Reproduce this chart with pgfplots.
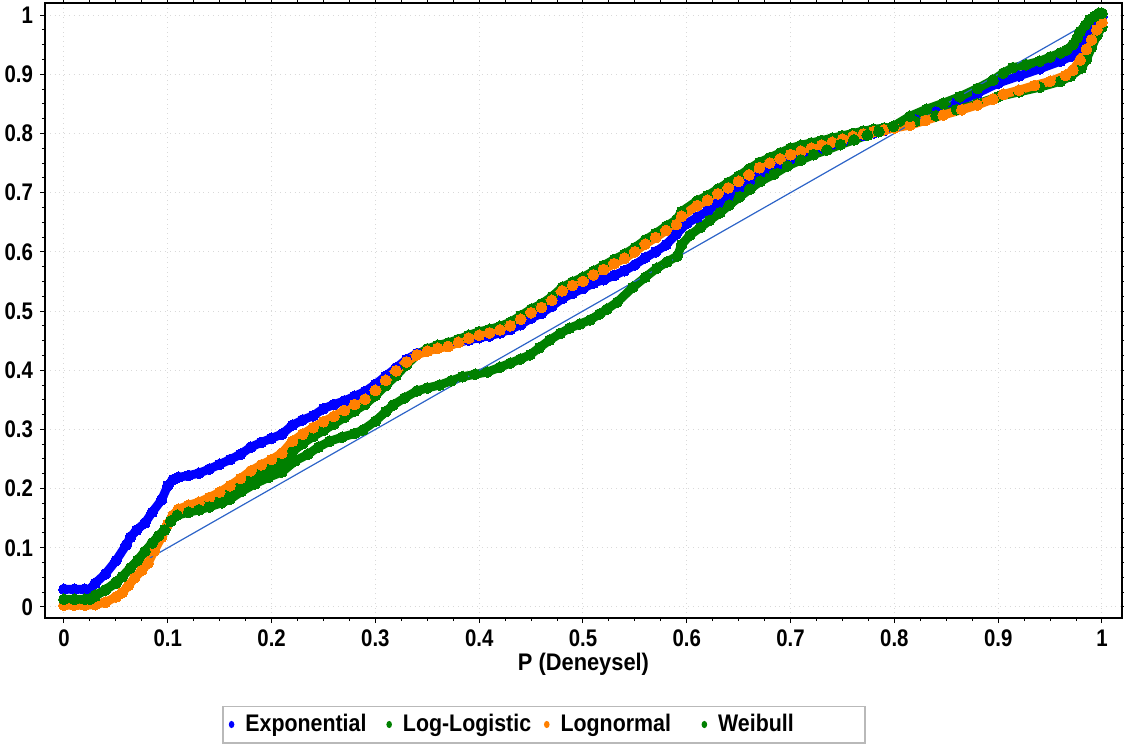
\documentclass[border=0pt]{standalone}
\usepackage{fontspec}
\setmainfont{Liberation Sans}
\usepackage{pgfplots}
\usepackage{pgfplotstable}
\pgfplotsset{compat=1.18}
\definecolor{cblue}{RGB}{0,0,255}
\definecolor{cgreen}{RGB}{0,128,0}
\definecolor{corange}{RGB}{255,128,0}
\definecolor{cline}{RGB}{45,100,200}

\pgfplotstableread{
x y
0.000 0.030
0.010 0.030
0.020 0.030
0.025 0.030
0.030 0.040
0.040 0.056
0.050 0.078
0.060 0.105
0.064 0.118
0.070 0.130
0.078 0.142
0.085 0.160
0.094 0.181
0.100 0.205
0.105 0.215
0.110 0.219
0.120 0.222
0.130 0.226
0.140 0.233
0.150 0.241
0.160 0.249
0.170 0.258
0.180 0.270
0.190 0.278
0.200 0.285
0.210 0.292
0.220 0.307
0.230 0.316
0.240 0.323
0.250 0.335
0.260 0.342
0.270 0.348
0.280 0.356
0.290 0.364
0.300 0.376
0.310 0.390
0.320 0.404
0.330 0.418
0.340 0.428
0.350 0.433
0.360 0.438
0.370 0.442
0.380 0.447
0.390 0.451
0.400 0.455
0.410 0.458
0.420 0.463
0.430 0.469
0.440 0.477
0.450 0.488
0.460 0.496
0.470 0.508
0.480 0.521
0.490 0.530
0.500 0.538
0.510 0.547
0.520 0.553
0.530 0.560
0.540 0.568
0.550 0.578
0.560 0.590
0.570 0.600
0.580 0.612
0.590 0.630
0.600 0.648
0.610 0.658
0.620 0.669
0.630 0.682
0.640 0.694
0.650 0.705
0.660 0.718
0.670 0.730
0.680 0.741
0.690 0.750
0.700 0.757
0.710 0.764
0.720 0.770
0.730 0.776
0.740 0.782
0.750 0.787
0.760 0.792
0.770 0.797
0.780 0.801
0.790 0.805
0.800 0.810
0.820 0.823
0.840 0.836
0.860 0.852
0.880 0.868
0.900 0.885
0.920 0.897
0.940 0.909
0.960 0.922
0.970 0.930
0.980 0.945
0.985 0.960
0.990 0.975
0.995 0.990
1.000 0.998
}\expo

\pgfplotstableread{
x y
0.000 0.012
0.020 0.012
0.030 0.020
0.040 0.029
0.050 0.042
0.056 0.051
0.064 0.066
0.071 0.079
0.078 0.094
0.085 0.108
0.091 0.120
0.097 0.131
0.103 0.147
0.109 0.157
0.120 0.163
0.130 0.168
0.140 0.175
0.150 0.183
0.160 0.193
0.170 0.205
0.180 0.216
0.190 0.227
0.200 0.236
0.210 0.246
0.220 0.262
0.230 0.276
0.240 0.288
0.250 0.298
0.260 0.309
0.270 0.320
0.280 0.331
0.290 0.342
0.300 0.357
0.310 0.374
0.320 0.391
0.330 0.409
0.340 0.426
0.350 0.436
0.360 0.442
0.370 0.446
0.380 0.452
0.390 0.459
0.400 0.465
0.410 0.469
0.420 0.474
0.430 0.481
0.440 0.492
0.450 0.503
0.460 0.512
0.470 0.524
0.480 0.540
0.490 0.549
0.500 0.557
0.510 0.567
0.520 0.577
0.530 0.587
0.540 0.596
0.550 0.607
0.560 0.620
0.570 0.631
0.580 0.643
0.590 0.654
0.595 0.668
0.610 0.686
0.620 0.695
0.630 0.706
0.640 0.717
0.650 0.728
0.660 0.740
0.670 0.751
0.680 0.759
0.690 0.767
0.700 0.775
0.710 0.780
0.720 0.784
0.730 0.788
0.740 0.792
0.750 0.796
0.760 0.800
0.770 0.804
0.780 0.807
0.790 0.809
0.800 0.811
0.820 0.820
0.840 0.830
0.860 0.840
0.880 0.850
0.900 0.862
0.920 0.870
0.940 0.878
0.960 0.888
0.970 0.897
0.980 0.910
0.985 0.925
0.990 0.945
0.995 0.965
1.000 0.980
}\loglog

\pgfplotstableread{
x y
0.000 0.003
0.010 0.003
0.020 0.003
0.030 0.004
0.040 0.008
0.050 0.017
0.056 0.024
0.062 0.036
0.068 0.049
0.075 0.062
0.081 0.074
0.087 0.095
0.094 0.118
0.100 0.140
0.105 0.155
0.110 0.165
0.120 0.172
0.130 0.177
0.140 0.185
0.150 0.194
0.160 0.205
0.170 0.217
0.180 0.230
0.190 0.240
0.200 0.249
0.210 0.260
0.220 0.280
0.230 0.292
0.240 0.303
0.250 0.313
0.260 0.322
0.270 0.332
0.280 0.342
0.290 0.351
0.300 0.366
0.310 0.383
0.320 0.399
0.330 0.414
0.340 0.426
0.350 0.432
0.360 0.437
0.370 0.440
0.380 0.447
0.390 0.454
0.400 0.459
0.410 0.463
0.420 0.468
0.430 0.475
0.440 0.486
0.450 0.497
0.460 0.506
0.470 0.518
0.480 0.534
0.490 0.543
0.500 0.550
0.510 0.561
0.520 0.570
0.530 0.580
0.540 0.589
0.550 0.600
0.560 0.613
0.570 0.624
0.580 0.636
0.590 0.646
0.595 0.660
0.610 0.678
0.620 0.687
0.630 0.698
0.640 0.708
0.650 0.719
0.660 0.730
0.670 0.742
0.680 0.750
0.690 0.757
0.700 0.764
0.710 0.770
0.720 0.775
0.730 0.780
0.740 0.785
0.750 0.790
0.760 0.795
0.770 0.799
0.780 0.803
0.790 0.806
0.800 0.809
0.815 0.814
0.830 0.822
0.847 0.831
0.865 0.840
0.880 0.848
0.895 0.858
0.905 0.866
0.920 0.873
0.935 0.881
0.950 0.888
0.965 0.898
0.972 0.907
0.979 0.924
0.985 0.942
0.990 0.958
0.995 0.975
1.000 0.988
}\lognorm

\pgfplotstableread{
x y
0.000 0.013
0.010 0.013
0.020 0.013
0.025 0.013
0.030 0.018
0.040 0.029
0.050 0.040
0.056 0.051
0.064 0.066
0.071 0.079
0.078 0.094
0.085 0.108
0.091 0.120
0.097 0.130
0.103 0.145
0.109 0.155
0.120 0.160
0.130 0.164
0.140 0.169
0.152 0.176
0.160 0.182
0.171 0.195
0.184 0.208
0.197 0.219
0.210 0.228
0.223 0.247
0.235 0.258
0.245 0.270
0.256 0.280
0.268 0.287
0.280 0.293
0.288 0.299
0.300 0.314
0.310 0.330
0.317 0.341
0.328 0.353
0.340 0.365
0.350 0.370
0.362 0.375
0.373 0.382
0.384 0.389
0.396 0.393
0.408 0.397
0.420 0.405
0.430 0.412
0.440 0.419
0.449 0.426
0.458 0.438
0.468 0.451
0.478 0.462
0.487 0.471
0.497 0.478
0.507 0.485
0.516 0.495
0.523 0.503
0.533 0.515
0.548 0.540
0.560 0.557
0.571 0.572
0.581 0.583
0.591 0.593
0.595 0.612
0.603 0.628
0.613 0.641
0.622 0.653
0.632 0.666
0.641 0.679
0.651 0.693
0.661 0.706
0.671 0.719
0.684 0.731
0.697 0.745
0.710 0.755
0.722 0.764
0.735 0.772
0.748 0.781
0.761 0.789
0.774 0.797
0.785 0.803
0.799 0.812
0.815 0.829
0.831 0.841
0.847 0.851
0.863 0.862
0.880 0.876
0.895 0.890
0.905 0.902
0.914 0.911
0.927 0.916
0.940 0.922
0.950 0.929
0.960 0.936
0.966 0.941
0.972 0.950
0.976 0.961
0.979 0.972
0.984 0.983
0.988 0.992
0.993 0.998
0.997 1.003
1.000 1.003
}\weib

\pgfplotstableread{
x y
0.083 0.083
0.983 0.983
}\diag

\begin{document}
\begin{tikzpicture}
\begin{axis}[
  scale only axis, width=538.5pt, height=307.5pt,
  xmin=-0.0183, xmax=1.0193, ymin=-0.0186, ymax=1.0203,
  xtick={0,0.1,0.2,0.3,0.4,0.5,0.6,0.7,0.8,0.9,1},
  ytick={0,0.1,0.2,0.3,0.4,0.5,0.6,0.7,0.8,0.9,1},
  minor tick num=3,
  tick align=outside,
  major tick length=2.5pt, minor tick length=1.6pt,
  tick style={black, line width=0.5pt},
  axis line style={black, line width=1pt},
  grid=major, grid style={dotted, gray!30, line width=0.5pt},
  minor grid style={draw=none},
  xticklabel={\scalebox{0.85}[1]{\pgfmathprintnumber[assume math mode=true]{\tick}}},
  yticklabel={\scalebox{0.85}[1]{\pgfmathprintnumber[assume math mode=true]{\tick}}},
  tick label style={font=\bfseries\fontsize{12}{14}\selectfont},
  xlabel={\scalebox{0.91}[1]{P (Deneysel)}},
  xlabel style={font=\bfseries\fontsize{12}{14}\selectfont, at={(axis description cs:0.5,0)}, anchor=center, yshift=-23pt},
  legend columns=4,
  legend style={at={(0.4633,0)}, anchor=center, yshift=-53.25pt,
    draw=gray!55, line width=0.8pt, inner xsep=3pt, inner ysep=1.5pt,
    font=\bfseries\fontsize{12}{14}\selectfont,
    nodes={inner sep=2.5pt},
    /tikz/every odd column/.append style={column sep=3pt}},
  legend image code/.code={\fill[draw=none] (0.2cm,0cm) ellipse (1.4pt and 1.8pt);},
  every axis plot/.append style={mark=*, mark size=2.7pt, line width=4.4pt, line join=round, line cap=round, mark options={line width=0pt}},
]
\addplot[color=cblue] table {\expo};
\addlegendentry{\makebox[68pt][l]{\scalebox{0.89}[1]{Exponential}}}
\addplot[color=cgreen] table {\loglog};
\addlegendentry{\makebox[68pt][l]{\scalebox{0.89}[1]{Log-Logistic}}}
\addplot[color=corange] table {\lognorm};
\addlegendentry{\makebox[68pt][l]{\scalebox{0.89}[1]{Lognormal}}}
\addplot[color=cgreen] table {\weib};
\addlegendentry{\makebox[68pt][l]{\scalebox{0.89}[1]{Weibull}}}
\addplot[color=cline, mark=none, line width=0.6pt, forget plot] table {\diag};
\coordinate (bl) at (rel axis cs:0,0);
\coordinate (tr) at (rel axis cs:1,1);
\end{axis}
\pgfresetboundingbox
\path ([xshift=-22.5pt,yshift=-63pt]bl) rectangle ([xshift=1pt,yshift=1.5pt]tr);
\end{tikzpicture}
\end{document}
